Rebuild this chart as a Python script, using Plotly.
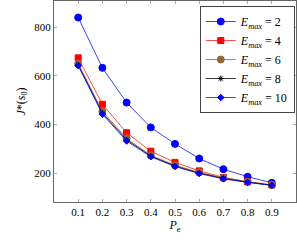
import plotly.graph_objects as go

pe = [0.1, 0.2, 0.3, 0.4, 0.5, 0.6, 0.7, 0.8, 0.9]
emax_labels = ["2", "4", "6", "8", "10"]
j_e2 = [840, 633, 490, 388, 320, 260, 216, 185, 160]
j_e4 = [674, 483, 366, 290, 244, 209, 182, 164, 151]
j_e6 = [650, 454, 343, 273, 232, 203, 180, 164, 151]
j_e8 = [646, 447, 337, 270, 229, 200, 178, 162, 150]
j_e10 = [642, 442, 332, 267, 227, 198, 176, 161, 149]
x_ticks = [0.1, 0.2, 0.3, 0.4, 0.5, 0.6, 0.7, 0.8, 0.9]
y_ticks = [200, 400, 600, 800]

series = [j_e2, j_e4, j_e6, j_e8, j_e10]
colors = ["#0000ff", "#ff0000", "#996633", "#000000", "#0000ff"]
line_colors = ["rgba(0,0,255,0.75)", "rgba(255,0,0,0.7)", "rgba(153,102,51,0.8)",
               "rgba(0,0,0,0.8)", "rgba(0,0,255,0.75)"]
symbols = ["circle", "square", "circle", "asterisk", "diamond"]
sizes = [7, 6, 7, 5, 5]

font_family = "Liberation Serif"

fig = go.Figure()
for vals, lab, c, lc, sym, sz in zip(series, emax_labels, colors, line_colors, symbols, sizes):
    fig.add_trace(go.Scatter(
        x=pe, y=vals, mode="lines+markers",
        name="<i>E</i><sub><i>max</i></sub> = " + lab,
        line=dict(color=lc, width=1),
        marker=dict(color=c, symbol=sym, size=sz,
                    line=dict(color=c, width=1)),
    ))

fig.update_layout(
    width=297, height=240,
    margin=dict(l=54, r=1, t=1, b=38, autoexpand=False),
    paper_bgcolor="white", plot_bgcolor="white",
    font=dict(family=font_family, size=11, color="black"),
    showlegend=True,
    legend=dict(
        x=0.995, y=0.975, xanchor="right", yanchor="top",
        bgcolor="white", bordercolor="#444444", borderwidth=1,
        font=dict(family=font_family, size=12),
        tracegroupgap=0, itemwidth=30,
    ),
)
fig.update_xaxes(
    range=[0.0, 1.0], tickvals=x_ticks, ticktext=[str(v) for v in x_ticks],
    ticks="inside", ticklen=3, tickcolor="#aaaaaa", tickwidth=1,
    showline=True, linecolor="#666666", linewidth=1, mirror="ticks",
    showgrid=False, zeroline=False, automargin=False,
    tickfont=dict(family=font_family, size=11),
    title=dict(text="<i>P</i><sub>e</sub>", font=dict(family=font_family, size=12), standoff=2),
)
fig.update_yaxes(
    range=[81, 908], tickvals=y_ticks, ticktext=[str(v) for v in y_ticks],
    ticks="inside", ticklen=3, tickcolor="#aaaaaa", tickwidth=1,
    showline=True, linecolor="#666666", linewidth=1, mirror="ticks",
    showgrid=False, zeroline=False, automargin=False,
    tickfont=dict(family=font_family, size=11),
    title=dict(text="<i>J</i>*(<i>s</i><sub>0</sub>)", font=dict(family=font_family, size=12), standoff=6),
)

fig.write_html("out.html", config={"displayModeBar": False},
               post_script="document.body.style.margin='0';document.body.style.padding='0';")
